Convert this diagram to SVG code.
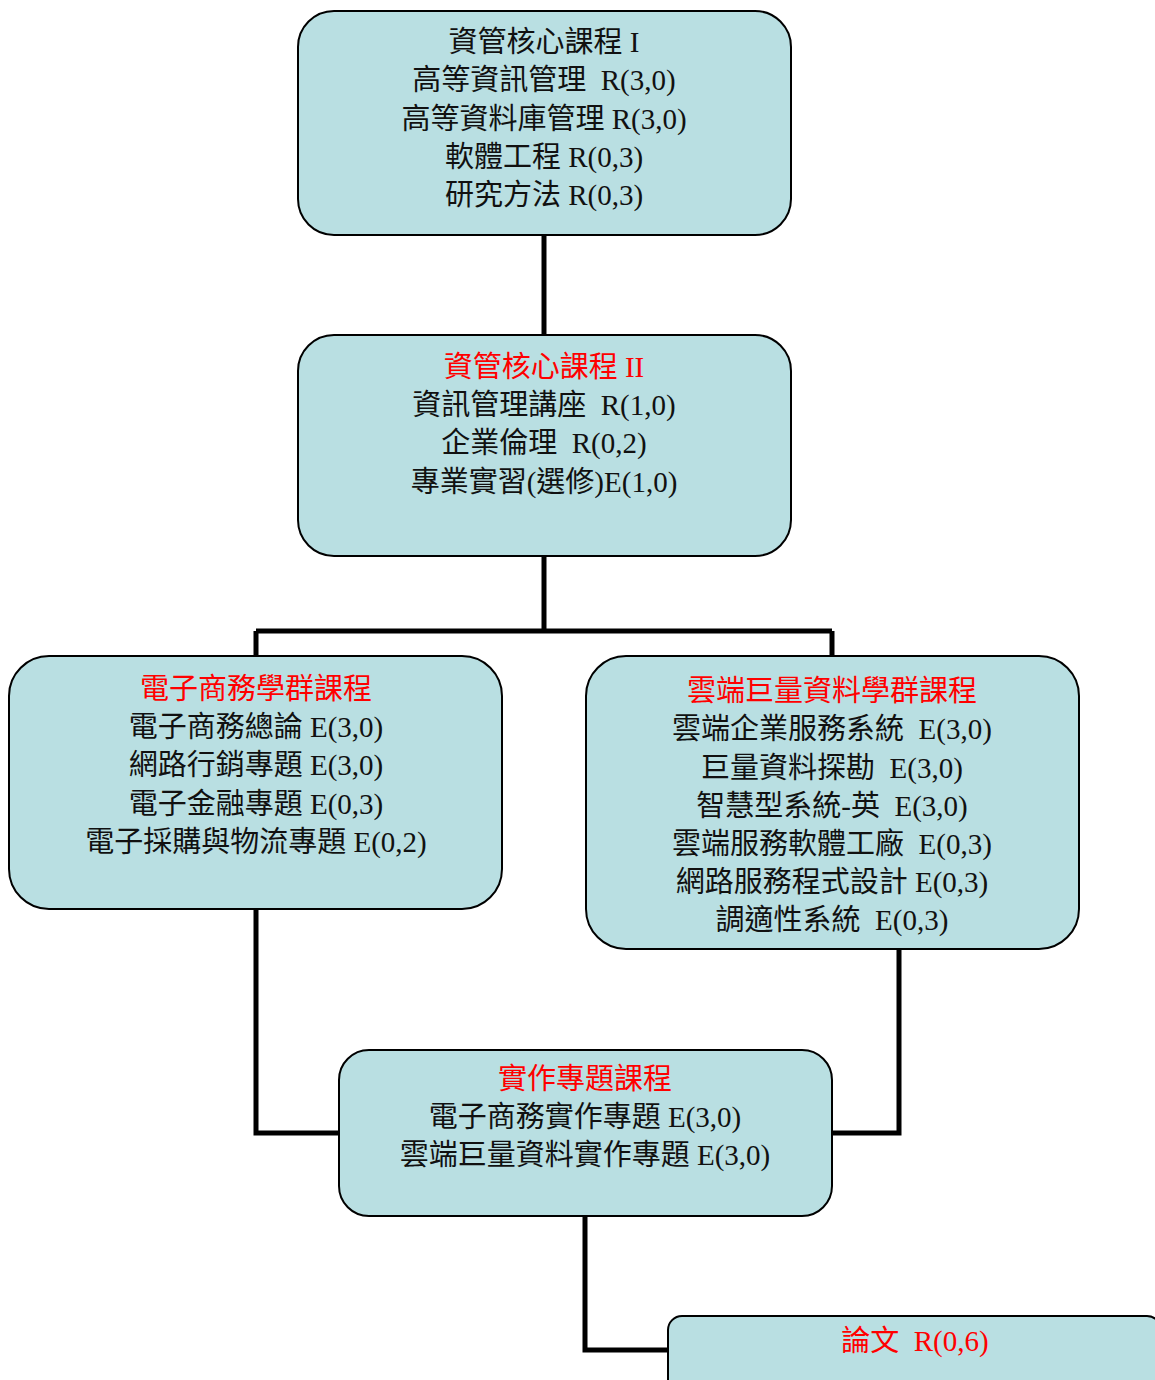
<svg xmlns="http://www.w3.org/2000/svg" width="1155" height="1380" viewBox="0 0 1155 1380">
<style>
.box{fill:#B9DFE2;stroke:#000;stroke-width:2}
.t{font-family:"Liberation Serif","Noto Sans CJK TC","Noto Sans CJK SC",serif;font-size:29px;fill:#111;text-anchor:middle;white-space:pre}
.r{fill:#FF0000}
.c{fill:none;stroke:#000;stroke-width:5}
</style>
<rect width="1155" height="1380" fill="#fff"/>
<g id="connectors">
<path class="c" d="M544,235 V335"/>
<path class="c" d="M544,556 V631 M256,631 H832 M256,631 V656 M832,631 V656"/>
<path class="c" d="M256,909 V1133 H339"/>
<path class="c" d="M899,949 V1133 H832"/>
<path class="c" d="M585,1216 V1350 H668"/>
</g>
<g id="core1">
<rect class="box" x="298" y="11" width="493" height="224" rx="36"/>
<text class="t"><tspan x="544" y="52">資管核心課程 I</tspan><tspan x="544" y="90">高等資訊管理  R(3,0)</tspan><tspan x="544" y="129">高等資料庫管理 R(3,0)</tspan><tspan x="544" y="167">軟體工程 R(0,3)</tspan><tspan x="544" y="205">研究方法 R(0,3)</tspan></text>
</g>
<g id="core2">
<rect class="box" x="298" y="335" width="493" height="221" rx="36"/>
<text class="t"><tspan class="r" x="544" y="377">資管核心課程 II</tspan><tspan x="544" y="415">資訊管理講座  R(1,0)</tspan><tspan x="544" y="453">企業倫理  R(0,2)</tspan><tspan x="544" y="492">專業實習(選修)E(1,0)</tspan></text>
</g>
<g id="ecommerce">
<rect class="box" x="9" y="656" width="493" height="253" rx="40"/>
<text class="t"><tspan class="r" x="256" y="699">電子商務學群課程</tspan><tspan x="256" y="737">電子商務總論 E(3,0)</tspan><tspan x="256" y="775">網路行銷專題 E(3,0)</tspan><tspan x="256" y="814">電子金融專題 E(0,3)</tspan><tspan x="256" y="852">電子採購與物流專題 E(0,2)</tspan></text>
</g>
<g id="cloud">
<rect class="box" x="586" y="656" width="493" height="293" rx="40"/>
<text class="t"><tspan class="r" x="832" y="701">雲端巨量資料學群課程</tspan><tspan x="832" y="739">雲端企業服務系統  E(3,0)</tspan><tspan x="832" y="778">巨量資料探勘  E(3,0)</tspan><tspan x="832" y="816">智慧型系統-英  E(3,0)</tspan><tspan x="832" y="854">雲端服務軟體工廠  E(0,3)</tspan><tspan x="832" y="892">網路服務程式設計 E(0,3)</tspan><tspan x="832" y="930">調適性系統  E(0,3)</tspan></text>
</g>
<g id="practice">
<rect class="box" x="339" y="1050" width="493" height="166" rx="30"/>
<text class="t"><tspan class="r" x="585" y="1089">實作專題課程</tspan><tspan x="585" y="1127">電子商務實作專題 E(3,0)</tspan><tspan x="585" y="1165">雲端巨量資料實作專題 E(3,0)</tspan></text>
</g>
<g id="thesis">
<rect class="box" x="668" y="1316" width="493" height="120" rx="14"/>
<text class="t"><tspan class="r" x="915" y="1351">論文  R(0,6)</tspan></text>
</g>
</svg>
